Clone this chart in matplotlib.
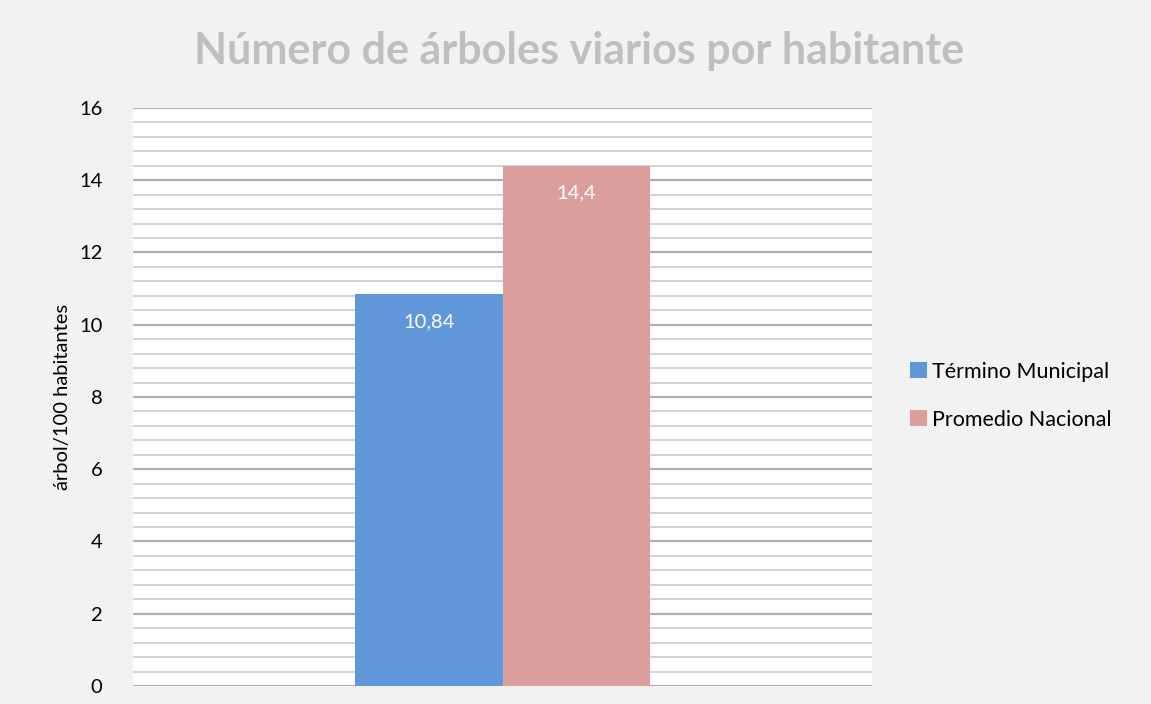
import matplotlib
matplotlib.use('Agg')
import matplotlib.pyplot as plt
import numpy as np

series = ['Término Municipal', 'Promedio Nacional']
values = [10.84, 14.4]
labels = ['10,84', '14,4']
colors = ['#6097d8', '#dc9d9d']

plt.rcParams['font.family'] = ['Lato', 'DejaVu Sans']

fig = plt.figure(figsize=(11.51, 7.04), dpi=100, facecolor='#f2f2f2')
ax = fig.add_axes([0.1156, 0.0256, 0.642, 0.821])
ax.set_facecolor('white')

width = 0.2
offsets = [-width / 2, width / 2]
for name, v, lab, c, off in zip(series, values, labels, colors, offsets):
    ax.bar(off, v, width=width, color=c, label=name, zorder=3)
    ax.text(off, v - 0.75, lab, ha='center', va='center', color='white',
            fontsize=14.5, zorder=4)

ax.set_xlim(-0.5, 0.5)
ax.set_ylim(0, 16)
ax.set_yticks(np.arange(0, 17, 2))
ax.set_yticks(np.arange(0, 16.01, 0.4), minor=True)
ax.grid(axis='y', which='major', color='#b0b0b0', linewidth=1.6, zorder=0)
ax.grid(axis='y', which='minor', color='#d0d0d0', linewidth=1.3, zorder=0)
ax.set_xticks([])
ax.tick_params(axis='y', which='both', length=0, labelsize=14.5, pad=22)
for s in ax.spines.values():
    s.set_visible(False)

ax.set_ylabel('árbol/100 habitantes', fontsize=14.5, labelpad=6)

fig.text(0.503, 0.928, 'Número de árboles viarios por habitante', ha='center',
         va='center', fontsize=31, fontweight='bold', color='#bfbfbf')

fig.legend(loc='center left', bbox_to_anchor=(0.774, 0.438), frameon=False,
           fontsize=15.5, handlelength=0.8, handleheight=0.8, handletextpad=0.2,
           labelspacing=1.3)

plt.savefig('out.png', dpi=100, facecolor=fig.get_facecolor())
